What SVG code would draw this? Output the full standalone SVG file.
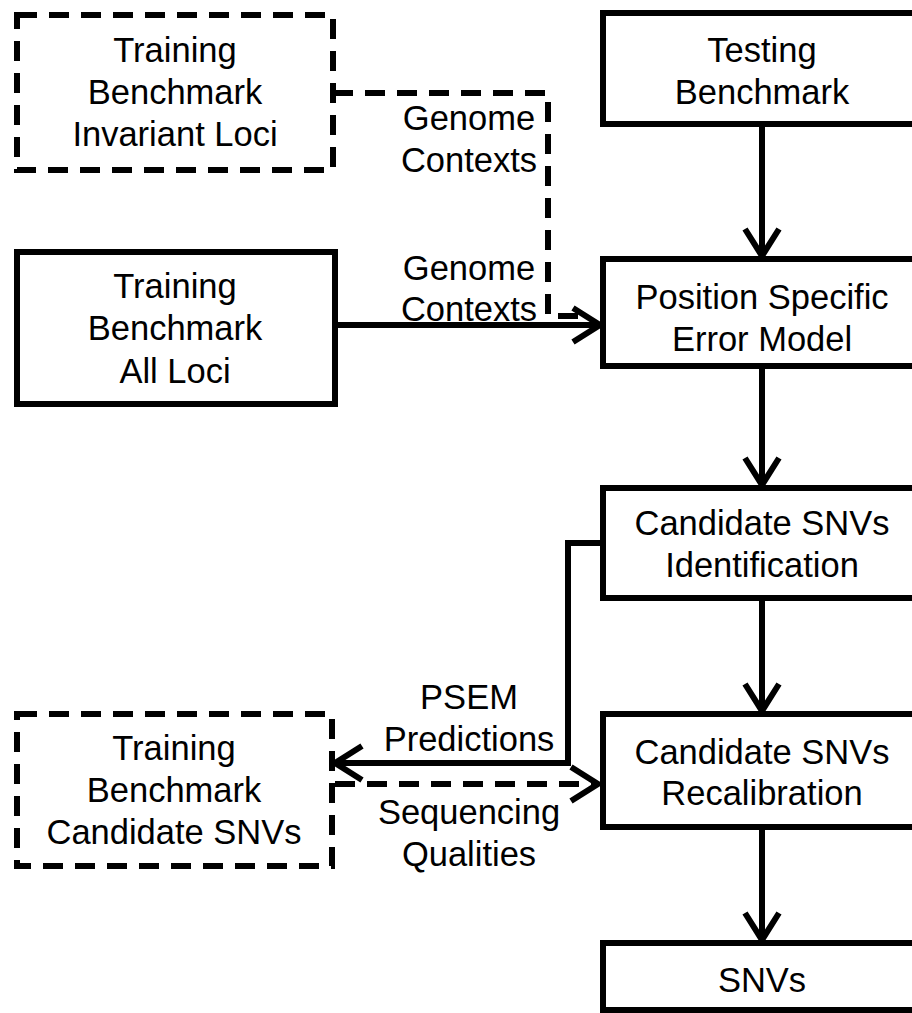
<svg xmlns="http://www.w3.org/2000/svg" width="912" height="1013" viewBox="0 0 912 1013">
<style>
.box{fill:#fff;stroke:#000;stroke-width:6}
.dash{stroke-dasharray:20 12}
.ln{fill:none;stroke:#000;stroke-width:6}
text{font-family:"Liberation Sans",Arial,sans-serif;font-size:34.5px;fill:#000;text-anchor:middle}
</style>
<defs>
<marker id="arr" viewBox="0 0 34 40" refX="30" refY="20" markerWidth="34" markerHeight="40" markerUnits="userSpaceOnUse" orient="auto">
<path d="M3,3 L30,20 L3,37" fill="none" stroke="#000" stroke-width="6"/>
</marker>
</defs>
<rect width="912" height="1013" fill="#fff"/>
<g id="connectors">
<path class="ln dash" d="M333,93 H548 V316 H588"/>
<path class="ln" d="M337,325 H600" marker-end="url(#arr)"/>
<path class="ln" d="M762,124 V256" marker-end="url(#arr)"/>
<path class="ln" d="M762,366 V485" marker-end="url(#arr)"/>
<path class="ln" d="M762,598 V711" marker-end="url(#arr)"/>
<path class="ln" d="M762,827 V940" marker-end="url(#arr)"/>
<path class="ln" d="M603,543 H568 V763 H335" marker-end="url(#arr)"/>
<path class="ln dash" d="M335,784 H598" marker-end="url(#arr)"/>
<text x="469" y="130">Genome</text>
<text x="469" y="172">Contexts</text>
<text x="469" y="280">Genome</text>
<text x="469" y="321">Contexts</text>
<text x="469" y="709">PSEM</text>
<text x="469" y="751">Predictions</text>
<text x="469" y="824">Sequencing</text>
<text x="469" y="866">Qualities</text>
</g>
<g id="train-invariant">
<rect class="box dash" x="17" y="15" width="316" height="155"/>
<text x="175" y="62">Training</text>
<text x="175" y="104">Benchmark</text>
<text x="175" y="146">Invariant Loci</text>
</g>
<g id="train-all">
<rect class="box" x="17" y="252" width="318" height="152"/>
<text x="175" y="298">Training</text>
<text x="175" y="340">Benchmark</text>
<text x="175" y="383">All Loci</text>
</g>
<g id="train-candidate">
<rect class="box dash" x="17" y="714" width="315" height="152"/>
<text x="174" y="760">Training</text>
<text x="174" y="802">Benchmark</text>
<text x="174" y="844">Candidate SNVs</text>
</g>
<g id="testing">
<rect class="box" x="603" y="13" width="318" height="111"/>
<text x="762" y="62">Testing</text>
<text x="762" y="104">Benchmark</text>
</g>
<g id="psem">
<rect class="box" x="603" y="259" width="318" height="107"/>
<text x="762" y="309">Position Specific</text>
<text x="762" y="351">Error Model</text>
</g>
<g id="identification">
<rect class="box" x="603" y="488" width="318" height="110"/>
<text x="762" y="535">Candidate SNVs</text>
<text x="762" y="577">Identification</text>
</g>
<g id="recalibration">
<rect class="box" x="603" y="714" width="318" height="113"/>
<text x="762" y="764">Candidate SNVs</text>
<text x="762" y="805">Recalibration</text>
</g>
<g id="snvs">
<rect class="box" x="603" y="943" width="318" height="67"/>
<text x="762" y="992">SNVs</text>
</g>
</svg>
